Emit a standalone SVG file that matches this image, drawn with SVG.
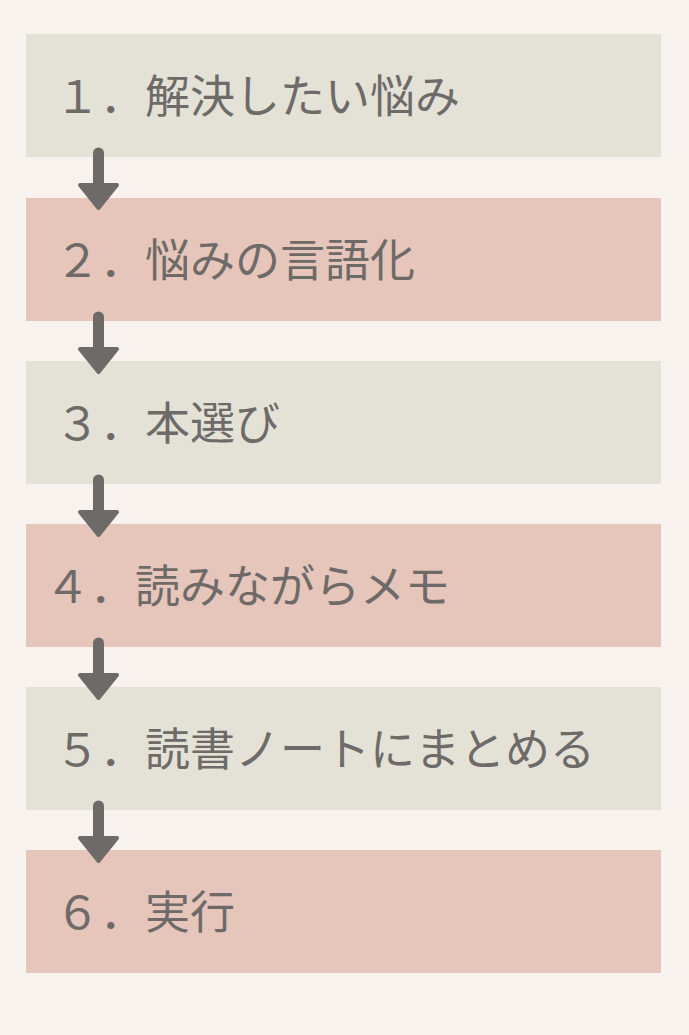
<svg xmlns="http://www.w3.org/2000/svg" width="689" height="1035" viewBox="0 0 689 1035">
<style>
.g{fill:#e4e1d7}
.p{fill:#e6c5bb}
.t{font-family:"Noto Sans CJK JP","Noto Sans",sans-serif;font-size:45px;fill:#6e6a68}
.shaft{stroke:#6e6a68;stroke-width:11;stroke-linecap:round;fill:none}
.head{fill:#6e6a68;stroke:#6e6a68;stroke-width:4;stroke-linejoin:round}
</style>
<rect width="689" height="1035" fill="#f7f2ee"/>
<g id="node1"><rect class="g" x="26" y="34" width="635" height="123"/><text class="t" x="55" y="113">１．解決したい悩み</text></g>
<g id="node2"><rect class="p" x="26" y="198" width="635" height="123"/><text class="t" x="55" y="277">２．悩みの言語化</text></g>
<g id="node3"><rect class="g" x="26" y="361" width="635" height="123"/><text class="t" x="55" y="440">３．本選び</text></g>
<g id="node4"><rect class="p" x="26" y="524" width="635" height="123"/><text class="t" x="45" y="603">４．読みながらメモ</text></g>
<g id="node5"><rect class="g" x="26" y="687" width="635" height="123"/><text class="t" x="55" y="766">５．読書ノートにまとめる</text></g>
<g id="node6"><rect class="p" x="26" y="850" width="635" height="123"/><text class="t" x="55" y="929">６．実行</text></g>
<g id="connectors">
<path class="shaft" d="M98.5 153V186"/><path class="head" d="M80 185H117L98.5 208Z"/>
<path class="shaft" d="M98.5 317V350"/><path class="head" d="M80 349H117L98.5 372Z"/>
<path class="shaft" d="M98.5 480V513"/><path class="head" d="M80 512H117L98.5 535Z"/>
<path class="shaft" d="M98.5 643V676"/><path class="head" d="M80 675H117L98.5 698Z"/>
<path class="shaft" d="M98.5 806V839"/><path class="head" d="M80 838H117L98.5 861Z"/>
</g>
</svg>
